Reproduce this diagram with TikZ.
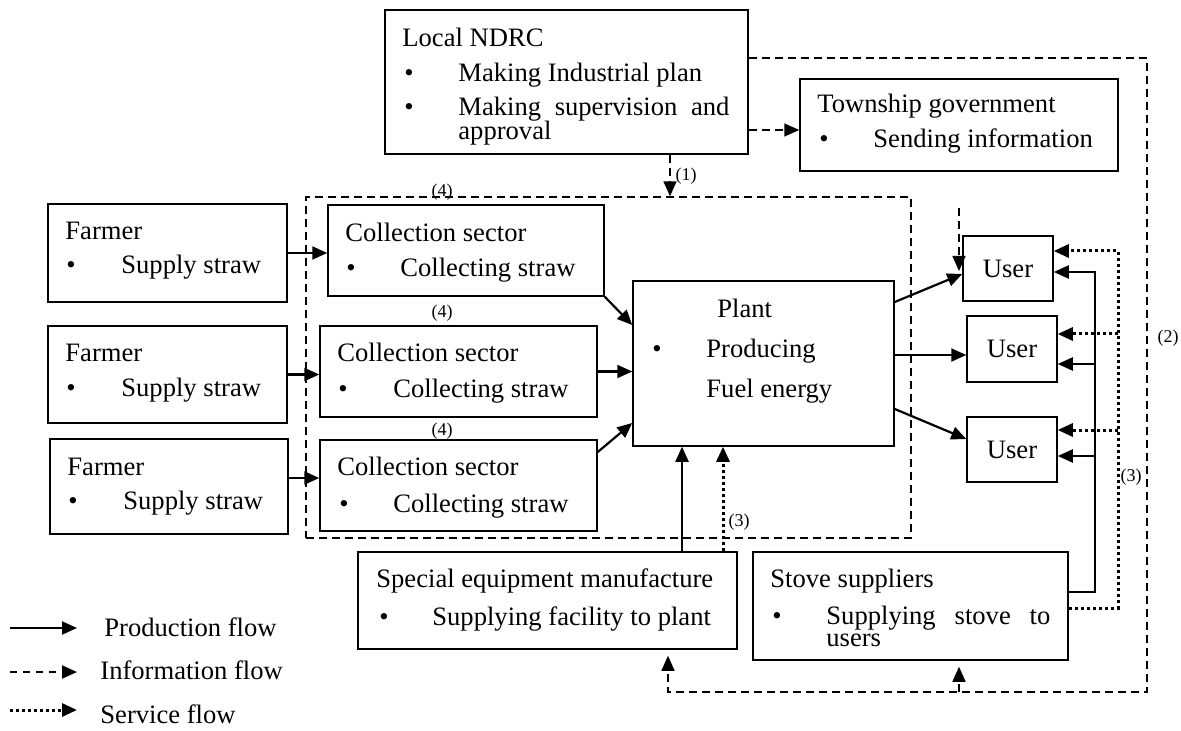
\documentclass[tikz,border=0pt]{standalone}
\usepackage{fontspec}
\setmainfont{Liberation Serif}
\usetikzlibrary{arrows.meta,fit}

\begin{document}
\begin{tikzpicture}[x=0.5pt,y=-0.5pt,
  box/.style={draw,line width=0.75pt,inner sep=0pt},
  txt/.style={anchor=base west,inner sep=0pt,font=\fontsize{13.3}{16}\selectfont},
  ctxt/.style={anchor=center,inner sep=0pt,font=\fontsize{13.3}{16}\selectfont},
  lbl/.style={inner sep=0pt,font=\fontsize{9}{10}\selectfont},
  tip/.style={-{Triangle[length=7.5pt,width=6.5pt]}},
  prod/.style={tip,line width=1.1pt},
  info/.style={tip,line width=0.75pt,dash pattern=on 4pt off 2.5pt},
  serv/.style={tip,line width=1.5pt,dash pattern=on 1.5pt off 1.5pt},
  grpline/.style={draw,line width=0.7pt,dash pattern=on 4pt off 2.5pt,inner sep=0pt}
]
\useasboundingbox (0,0) rectangle (1181,731);

% ---------- boxes ----------
\node[box,fit={(385,10) (748,154)}] (nd) {};
\node[box,fit={(800,79) (1118,171)}] (tw) {};
\node[grpline,fit={(306,197) (911,538)}] (grp) {};

\node[box,fit={(48,204) (287,302)}] (f1) {};
\node[box,fit={(48,326) (287,423)}] (f2) {};
\node[box,fit={(50,439) (288,534)}] (f3) {};

\node[box,fit={(328,205) (604,296)}] (c1) {};
\node[box,fit={(320,326) (597,417)}] (c2) {};
\node[box,fit={(320,440) (597,531)}] (c3) {};

\node[box,fit={(633,281) (894,446)}] (pl) {};

\node[box,fit={(963,236) (1053,301)}] (u1) {};
\node[box,fit={(967,316) (1057,382)}] (u2) {};
\node[box,fit={(967,417) (1057,482)}] (u3) {};

\node[box,fit={(358,552) (737,649)}] (sp) {};
\node[box,fit={(753,552) (1068,660)}] (st) {};

% ---------- box texts ----------
\node[txt] (ndt) at (402,47) {Local NDRC};
\node[txt] (ndb1) at (404,82) {\textbullet};
\node[txt] (ndl1) at (458,82) {Making Industrial plan};
\node[txt] (ndb2) at (404,116) {\textbullet};
\node[txt] (ndl2) at (458,116) {\makebox[135.5pt][s]{Making supervision and}};
\node[txt] (ndl3) at (458,140) {approval};

\node[txt] (twt) at (817,113) {Township government};
\node[txt] (twb) at (819,148) {\textbullet};
\node[txt] (twl) at (873,148) {Sending information};

\node[txt] (f1t) at (65,240) {Farmer};
\node[txt] (f1b) at (66,274) {\textbullet};
\node[txt] (f1l) at (121,274) {Supply straw};
\node[txt] (f2t) at (65,362) {Farmer};
\node[txt] (f2b) at (66,396) {\textbullet};
\node[txt] (f2l) at (121,396) {Supply straw};
\node[txt] (f3t) at (67,475) {Farmer};
\node[txt] (f3b) at (68,509) {\textbullet};
\node[txt] (f3l) at (123,509) {Supply straw};

\node[txt] (c1t) at (345,242) {Collection sector};
\node[txt] (c1b) at (346,277) {\textbullet};
\node[txt] (c1l) at (400,277) {Collecting straw};
\node[txt] (c2t) at (337,362) {Collection sector};
\node[txt] (c2b) at (338,398) {\textbullet};
\node[txt] (c2l) at (393,398) {Collecting straw};
\node[txt] (c3t) at (337,475) {Collection sector};
\node[txt] (c3b) at (339,512) {\textbullet};
\node[txt] (c3l) at (393,512) {Collecting straw};

\node[txt] (plt) at (717,318) {Plant};
\node[txt] (plb) at (652,358) {\textbullet};
\node[txt] (pll1) at (706,358) {Producing};
\node[txt] (pll2) at (706,398) {Fuel energy};

\node[ctxt] (u1t) at (u1.center) {User};
\node[ctxt] (u2t) at (u2.center) {User};
\node[ctxt] (u3t) at (u3.center) {User};

\node[txt] (spt) at (376,587) {Special equipment manufacture};
\node[txt] (spb) at (379,625) {\textbullet};
\node[txt] (spl) at (432,625) {Supplying facility to plant};

\node[txt] (stt) at (770,587) {Stove suppliers};
\node[txt] (stb) at (772,624) {\textbullet};
\node[txt] (stl1) at (826,624) {\makebox[112pt][s]{Supplying stove to}};
\node[txt] (stl2) at (826,646) {users};

% ---------- flow labels ----------
\node[lbl] (k1) at (686,176) {(1)};
\node[lbl] (k4a) at (442,192) {(4)};
\node[lbl] (k4b) at (442,313) {(4)};
\node[lbl] (k4c) at (442,431) {(4)};
\node[lbl] (k3a) at (739,522) {(3)};
\node[lbl] (k3b) at (1131,477) {(3)};
\node[lbl] (k2) at (1168,338) {(2)};

% ---------- production flows ----------
\draw[prod] (f1.east) -- (f1.east -| c1.west);
\draw[prod] (f2.east) -- (f2.east -| c2.west);
\draw[prod] (f3.east |- 0,478) -- (c3.west |- 0,478);

\draw[prod] (c1.south east) -- (pl.west |- 0,325);
\draw[prod] (c2.east) -- (c2.east -| pl.west);
\draw[prod] (c3.east |- 0,452) -- (pl.west |- 0,423);

\draw[prod] (pl.east |- 0,302) -- (u1.west |- 0,274);
\draw[prod] (pl.east |- 0,355) -- (u2.west |- 0,355);
\draw[prod] (pl.east |- 0,409) -- (u3.west |- 0,439);

\draw[prod] (sp.north -| 682,0) -- (pl.south -| 682,0);

\coordinate (sj1) at (1095,592);
\coordinate (sj2) at (1095,364);
\coordinate (sj3) at (1095,456);
\draw[prod] (st.east |- sj1) -- (sj1) -- (1095,272) -- (u1.east |- 0,272);
\draw[prod] (sj2) -- (u2.east |- sj2);
\draw[prod] (sj3) -- (u3.east |- sj3);

% ---------- service flows ----------
\draw[serv] (sp.north -| 723,0) -- (pl.south -| 723,0);
\coordinate (vj1) at (1118,608);
\coordinate (vj2) at (1118,334);
\coordinate (vj3) at (1118,430);
\draw[serv] (st.east |- vj1) -- (vj1) -- (1118,251) -- (u1.east |- 0,251);
\draw[serv] (vj2) -- (u2.east |- vj2);
\draw[serv] (vj3) -- (u3.east |- vj3);

% ---------- information flows ----------
\draw[info] (nd.south -| 670,0) -- (grp.north -| 670,0);
\draw[info] (nd.east |- 0,130) -- (tw.west |- 0,130);
\draw[info,shorten >=3pt] (nd.east |- 0,58) -- (1147,58) -- (1147,692) -- (668,692) -- (sp.south -| 668,0);
\coordinate (ij) at (959,692);
\draw[info,shorten >=3pt] (ij) -- (st.south -| ij);
\coordinate (ut) at (959,208);
\draw[info] (ut) -- (959,271);

% ---------- legend ----------
\coordinate (la1) at (10,628);  \coordinate (lb1) at (77,628);
\coordinate (la2) at (10,672);  \coordinate (lb2) at (77,672);
\coordinate (la3) at (10,710);  \coordinate (lb3) at (77,710);
\draw[prod] (la1) -- (lb1);
\draw[tip,line width=1.1pt,dash pattern=on 3.5pt off 3pt] (la2) -- (lb2);
\draw[serv] (la3) -- (lb3);
\node[txt] (lt1) at (104,636) {Production flow};
\node[txt] (lt2) at (100,679) {Information flow};
\node[txt] (lt3) at (100,723) {Service flow};
\end{tikzpicture}
\end{document}
